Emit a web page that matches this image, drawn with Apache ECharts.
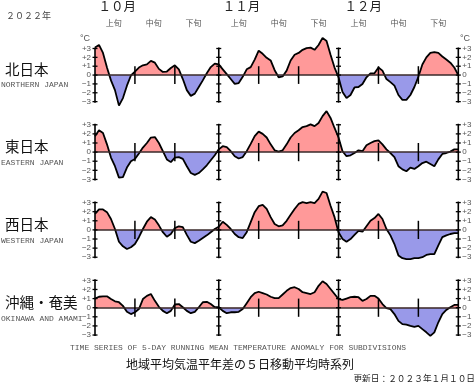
<!DOCTYPE html>
<html><head><meta charset="utf-8">
<script src="https://cdn.jsdelivr.net/npm/echarts@6/dist/echarts.min.js"></script>
<style>html,body{margin:0;padding:0;background:#fff}#c{width:476px;height:382px}</style>
</head><body><div id="c"></div>
<script>
// Day index: 0 = Oct 1, 91 = Dec 31 (2022)
const days = Array.from({length: 92}, (_, i) => i);

const northern = [3.1,3.4,2.5,0.85,-0.6,-1.7,-3.45,-2.6,-1.2,-0.05,
 0.4,0.85,1.1,1.2,1.6,1.4,0.7,0.35,0.4,0.8,
 1.1,0.65,-0.45,-1.7,-2.35,-2.1,-1.35,-0.6,0.2,0.9,
 1.3,1.2,0.65,0.1,-0.45,-1.0,-0.9,-0.2,0.65,0.9,
 1.75,2.75,2.4,1.95,1.65,0.55,-0.25,-0.15,0.5,1.65,
 2.3,2.5,2.85,3.05,3.1,2.85,3.4,4.2,3.85,2.3,
 0.85,-0.25,-1.9,-2.6,-2.25,-1.4,-1.35,-1.0,-0.25,0.2,
 0.2,0.85,0.5,-0.45,-0.8,-1.2,-2.25,-2.8,-2.8,-2.25,
 -1.35,-0.2,1.2,2.0,2.5,2.6,2.5,2.1,1.75,1.4,
 0.85,0];

const eastern = [1.75,2.4,2.1,0.85,-0.6,-1.55,-2.8,-2.75,-1.7,-1.0,
 -0.75,-0.15,0.5,1.0,1.6,1.65,1.0,0.1,-0.8,-1.1,
 -0.6,-0.55,-0.75,-1.55,-2.3,-2.5,-2.3,-1.9,-1.45,-0.9,
 -0.35,0.3,0.65,0.55,0.1,-0.45,-0.7,-0.55,0.1,0.9,
 1.75,2.25,2.0,1.6,0.85,0.2,0.05,0.2,0.85,1.6,
 2.1,2.4,2.75,2.85,3.05,2.85,3.2,3.95,4.5,3.75,
 2.65,1.6,0.1,-0.45,-0.35,-0.1,0.2,0.1,0.75,1.0,
 1.2,1.3,0.85,0.3,-0.1,-0.55,-1.55,-1.9,-2.1,-1.7,
 -1.85,-1.55,-1.2,-1.05,-1.3,-1.55,-0.8,-0.2,-0.1,0.05,
 0.3,0.3];

const western = [1.75,2.25,2.25,1.95,1.2,0.1,-1.3,-1.8,-2.1,-1.9,
 -1.55,-0.8,0.1,0.9,1.4,1.15,0.5,-0.25,-0.75,-0.45,
 0.2,0.4,0.3,-0.55,-1.3,-1.45,-1.2,-0.9,-0.6,-0.25,
 0.1,0.35,0.9,0.55,0.1,-0.45,-0.8,-0.9,-0.25,0.85,
 1.95,2.6,2.75,2.3,1.4,0.65,0.4,0.5,1.0,1.65,
 2.3,2.85,3.05,2.95,3.05,2.95,3.4,4.2,4.05,2.65,
 1.4,-0.25,-1.0,-1.3,-1.0,-0.55,-0.1,-0.2,0.4,1.0,
 1.3,1.75,1.2,0.1,-0.6,-1.55,-2.8,-3.1,-3.2,-3.2,
 -3.1,-3.1,-3.0,-2.75,-2.65,-2.65,-1.7,-0.8,-0.6,-0.45,
 -0.35,-0.35];

const okinawa = [1.0,1.2,1.25,1.25,0.95,0.7,0.6,0.2,-0.45,-0.7,
 -0.5,-0.15,0.95,1.3,1.5,0.75,0.1,-0.35,-0.6,-0.35,
 0.35,0.4,0.05,-0.35,-0.6,-0.45,0.05,0.6,0.65,0.4,
 0.05,0.05,-0.35,-0.6,-0.5,-0.5,-0.45,-0.15,0.5,1.15,
 1.6,1.75,1.6,1.45,1.2,1.05,1.05,1.45,1.85,2.15,
 2.25,2.05,1.7,1.6,1.5,1.7,2.4,2.9,2.6,2.05,
 1.5,0.95,0.85,1.0,1.15,1.2,1.15,0.75,0.95,1.3,
 1.3,1.0,0.4,-0.05,-0.15,-0.7,-1.45,-1.8,-1.85,-2.0,
 -2.1,-2.0,-2.35,-2.7,-3.1,-2.7,-1.6,-0.7,-0.25,0.05,
 0.3,0.3];

const seriesValues = [northern, eastern, western, okinawa];
const regionNames = ['北日本', '東日本', '西日本', '沖縄・奄美'];
const regionNamesEn = ['NORTHERN JAPAN', 'EASTERN JAPAN', 'WESTERN JAPAN', 'OKINAWA AND AMAMI'];

// tick positions (day index)
const monthDays = [0, 31, 61, 91];          // Oct 1, Nov 1, Dec 1, Dec 31 (frame)
const dekadDays = [10, 20, 41, 51, 71, 81]; // 11th and 21st of each month
const yTicks = [-3, -2, -1, 0, 1, 2, 3];
const monthLabelDays = [5.6, 36.7, 67.2];
const monthLabels = ['１０月', '１１月', '１２月'];
const dekadLabelDays = [4.7, 14.7, 24.7, 36, 46, 56, 66, 76, 86];
const dekadLabels = ['上旬', '中旬', '下旬', '上旬', '中旬', '下旬', '上旬', '中旬', '下旬'];

const POS = '#ff9999', NEG = '#9999e9';
const ZERO0 = 74.3, STEP = 77.8, UNIT = 9.11;
const GL = 95, GW = 363.3;

const grids = [], xAxes = [], yAxes = [], series = [], graphics = [];
const fmt = v => v > 0 ? '+' + v : (v < 0 ? '−' + (-v) : '0');
const cjk = '"Noto Sans CJK JP", sans-serif';

seriesValues.forEach((vals, i) => {
  const zero = ZERO0 + STEP * i;
  grids.push({left: GL, width: GW, top: zero - 3 * UNIT, height: 6 * UNIT});
  xAxes.push({type: 'value', gridIndex: i, min: 0, max: 91, z: 4,
    axisLine: {show: true, onZero: true, lineStyle: {color: '#3a2a2a', width: 1.5}},
    axisTick: {show: false}, axisLabel: {show: false}, splitLine: {show: false}});
  const yBase = {type: 'value', gridIndex: i, min: -3, max: 3, interval: 1,
    axisLine: {show: false}, axisTick: {show: false}, splitLine: {show: false}};
  yAxes.push(Object.assign({}, yBase, {position: 'left',
    axisLabel: {margin: 4, fontSize: 8, color: '#555', fontFamily: 'Liberation Sans', formatter: fmt}}));
  yAxes.push(Object.assign({}, yBase, {position: 'right',
    axisLabel: {margin: 4, fontSize: 8, color: '#555', fontFamily: 'Liberation Sans', formatter: fmt}}));
  series.push({type: 'line', xAxisIndex: i, yAxisIndex: 2 * i, clip: false,
    data: days.map((d, k) => [d, vals[k]]), symbol: 'none', showSymbol: false,
    lineStyle: {color: '#000', width: 1.8}, areaStyle: {opacity: 1}, z: 2, silent: true});
  // month dividers / frame with cross ticks
  series.push({type: 'custom', xAxisIndex: i, yAxisIndex: 2 * i, z: 6, silent: true,
    data: monthDays.map(d => [d, 0]), encode: {x: 0, y: 1},
    renderItem: (params, api) => {
      const x = api.value(0);
      const t = api.coord([x, 3]), b = api.coord([x, -3]);
      const ch = [{type: 'line', shape: {x1: t[0], y1: t[1] - 1, x2: b[0], y2: b[1] + 1}, style: {stroke: '#000', lineWidth: 1.6}}];
      yTicks.forEach(v => {
        const p = api.coord([x, v]);
        ch.push({type: 'line', shape: {x1: p[0] - 2.5, y1: p[1], x2: p[0] + 2.5, y2: p[1]}, style: {stroke: '#000', lineWidth: 1.3}});
      });
      return {type: 'group', children: ch};
    }});
  // dekad ticks
  series.push({type: 'custom', xAxisIndex: i, yAxisIndex: 2 * i, z: 6, silent: true,
    data: dekadDays.map(d => [d, 0]), encode: {x: 0, y: 1},
    renderItem: (params, api) => {
      const x = api.value(0);
      const t = api.coord([x, 1]), b = api.coord([x, -1]);
      return {type: 'line', shape: {x1: t[0], y1: t[1], x2: b[0], y2: b[1]}, style: {stroke: '#000', lineWidth: 1.5}};
    }});
  graphics.push({type: 'text', left: 5, top: zero - 4.5 - 8, style: {text: regionNames[i], font: '14.5px ' + cjk, fill: '#111'}});
  graphics.push({type: 'text', left: 1, top: zero + 11.5 - 4.5, style: {text: regionNamesEn[i], font: '8px "Liberation Mono", monospace', fill: '#555'}});
});

// top label axes on first grid
xAxes.push({type: 'value', gridIndex: 0, position: 'top', min: 0, max: 91,
  axisLine: {show: false, onZero: false}, axisTick: {show: false}, splitLine: {show: false},
  axisLabel: {customValues: dekadLabelDays, margin: 22, fontSize: 8, color: '#555', fontFamily: cjk,
    formatter: v => dekadLabels[dekadLabelDays.indexOf(v)] || ''}});
xAxes.push({type: 'value', gridIndex: 0, position: 'top', min: 0, max: 91,
  axisLine: {show: false, onZero: false}, axisTick: {show: false}, splitLine: {show: false},
  axisLabel: {customValues: monthLabelDays, margin: 36, fontSize: 12.5, color: '#222', fontFamily: cjk,
    formatter: v => monthLabels[monthLabelDays.indexOf(v)] || ''}});

graphics.push(
  {type: 'text', left: 6, top: 11.5, style: {text: '２０２２年', font: '9px ' + cjk, fill: '#444'}},
  {type: 'text', left: 80, top: 34.5, style: {text: '°C', font: '9px "Liberation Sans"', fill: '#555'}},
  {type: 'text', left: 460, top: 34.5, style: {text: '°C', font: '9px "Liberation Sans"', fill: '#555'}},
  {type: 'text', x: 238, y: 348, style: {text: 'TIME SERIES OF 5-DAY RUNNING MEAN TEMPERATURE ANOMALY FOR SUBDIVISIONS', font: '8px "Liberation Mono", monospace', fill: '#555', align: 'center', verticalAlign: 'middle'}},
  {type: 'text', x: 240, y: 364, style: {text: '地域平均気温平年差の５日移動平均時系列', font: '12px ' + cjk, fill: '#111', align: 'center', verticalAlign: 'middle'}},
  {type: 'text', x: 475, y: 378.5, style: {text: '更新日：２０２３年１月１０日', font: '8.7px ' + cjk, fill: '#222', align: 'right', verticalAlign: 'middle'}}
);

const chart = echarts.init(document.getElementById('c'), null, {renderer: 'canvas'});
chart.setOption({
  animation: false,
  backgroundColor: '#fff',
  grid: grids, xAxis: xAxes, yAxis: yAxes,
  visualMap: {show: false, type: 'piecewise', dimension: 1, seriesIndex: [0, 3, 6, 9],
    pieces: [{gt: 0, lte: 20, color: POS}, {gte: -20, lte: 0, color: NEG}]},
  series: series,
  graphic: graphics
});
</script></body></html>
